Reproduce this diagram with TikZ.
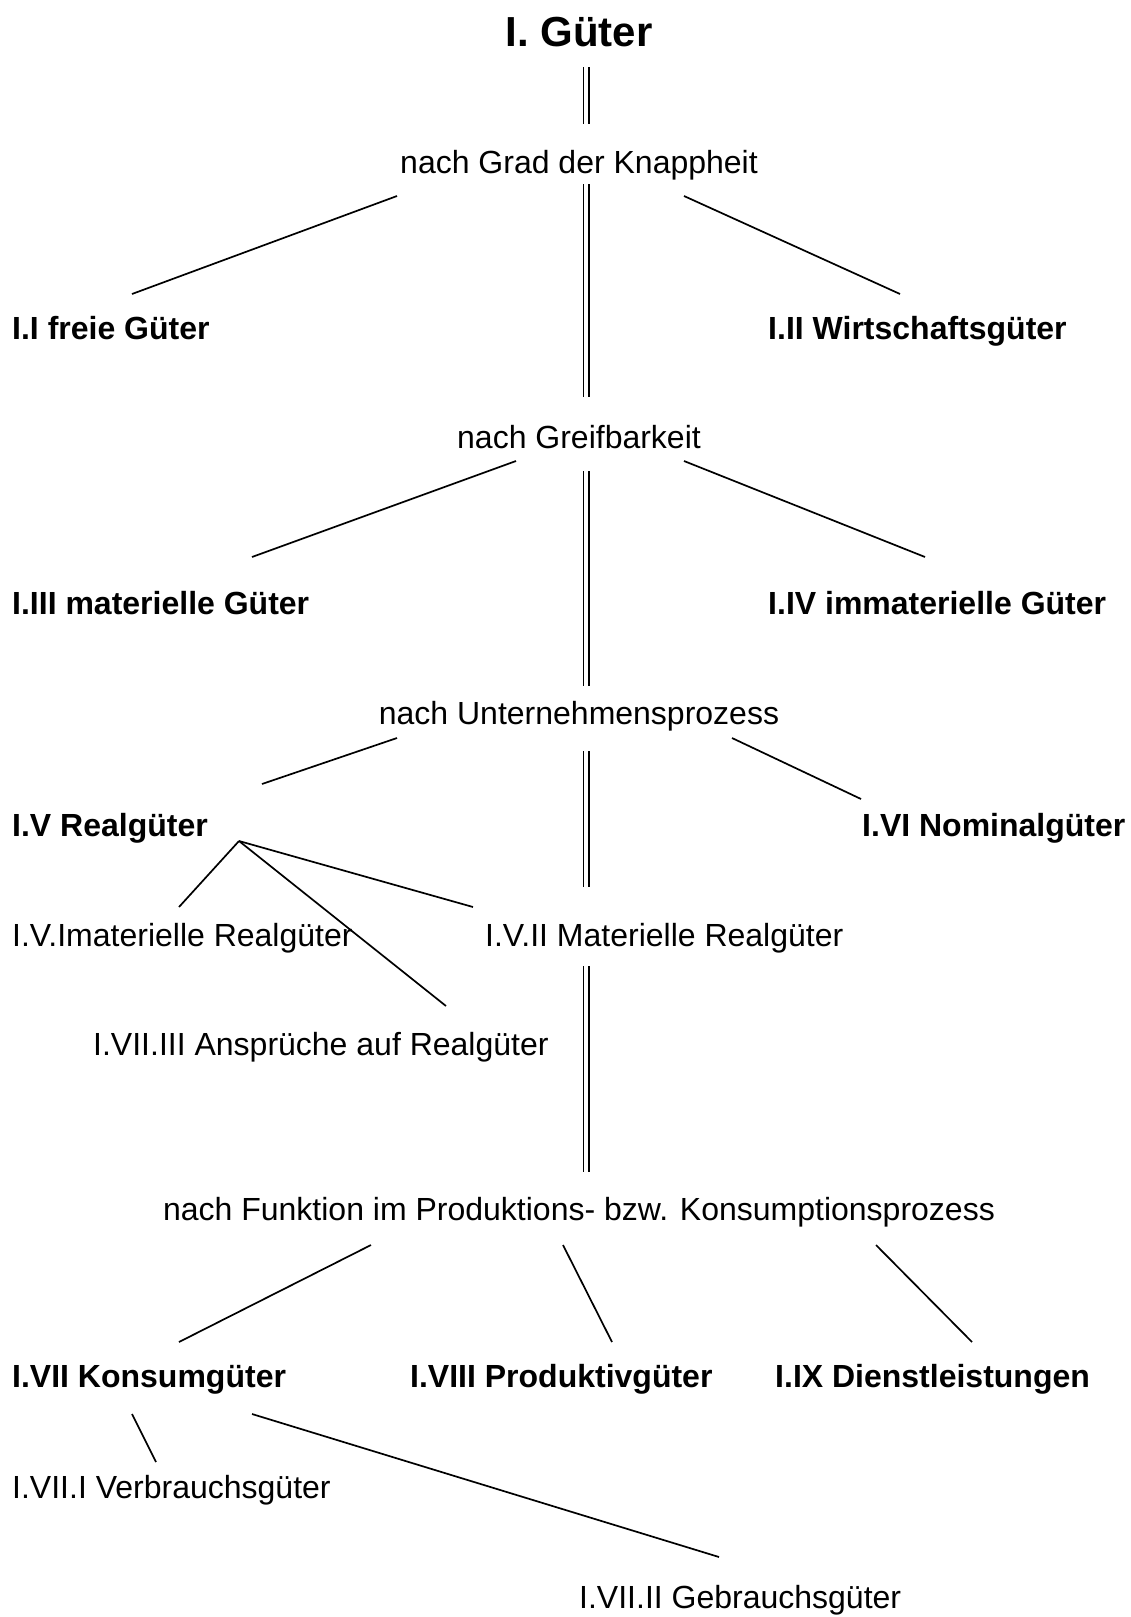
\documentclass[tikz,border=0pt]{standalone}
\usepackage{fontspec}
\setmainfont{Liberation Sans}
\usetikzlibrary{positioning}

\tikzset{
  crit/.style={font=\fontsize{32}{36}\selectfont, inner sep=0pt, anchor=base},
  cls/.style={font=\fontsize{32}{36}\selectfont\bfseries, inner sep=0pt, anchor=base west},
  sub/.style={font=\fontsize{32}{36}\selectfont, inner sep=0pt, anchor=base west},
  edge/.style={line width=1.7pt},
  dbl/.style={double, double distance=3.6pt, line width=1.7pt}
}

\begin{document}
\begin{tikzpicture}[x=1pt,y=-1pt]
  \useasboundingbox (0,0) rectangle (1131,1617);

  % title and criteria
  \node[font=\fontsize{42}{46}\selectfont\bfseries, inner sep=0pt, anchor=base] (gueter) at (579,46) {I. Güter};
  \node[crit] (knapp) at (579,173) {nach Grad der Knappheit};
  \node[crit] (greif) at (579,448) {nach Greifbarkeit};
  \node[crit] (prozess) at (579,724) {nach Unternehmensprozess};
  \node[crit] (funktion) at (579,1220) {nach Funktion im Produktions- bzw. Konsumptionsprozess};

  % classes
  \node[cls] (frei) at (12,339) {I.I freie Güter};
  \node[cls] (wirt) at (768,339) {I.II Wirtschaftsgüter};
  \node[cls] (mat) at (12,614) {I.III materielle Güter};
  \node[cls] (immat) at (768,614) {I.IV immaterielle Güter};
  \node[cls] (real) at (12,836) {I.V Realgüter};
  \node[cls] (nomi) at (862,836) {I.VI Nominalgüter};
  \node[cls] (konsum) at (12,1387) {I.VII Konsumgüter};
  \node[cls] (produkt) at (410,1387) {I.VIII Produktivgüter};
  \node[cls] (dienst) at (775,1387) {I.IX Dienstleistungen};

  % sub classes
  \node[sub] (imreal) at (12,946) {I.V.Imaterielle Realgüter};
  \node[sub] (mareal) at (485,946) {I.V.II Materielle Realgüter};
  \node[sub] (anspr) at (93,1055) {I.VII.III Ansprüche auf Realgüter};
  \node[sub] (verbr) at (12,1498) {I.VII.I Verbrauchsgüter};
  \node[sub] (gebr) at (579,1608) {I.VII.II Gebrauchsgüter};

  % free line ends
  \coordinate (k1) at (397,196);   \coordinate (k2) at (132,294);
  \coordinate (k3) at (684,196);   \coordinate (k4) at (900,294);
  \coordinate (g1) at (516,461);   \coordinate (g2) at (252,557);
  \coordinate (g3) at (684,461);   \coordinate (g4) at (925,557);
  \coordinate (p1) at (397,738);   \coordinate (p2) at (262,784);
  \coordinate (p3) at (732,738);   \coordinate (p4) at (861,799);
  \coordinate (r0) at (239,841);
  \coordinate (r1) at (179,907);   \coordinate (r2) at (473,907);
  \coordinate (r3) at (446,1006);
  \coordinate (f1) at (371,1245);  \coordinate (f2) at (179,1342);
  \coordinate (f3) at (563,1245);  \coordinate (f4) at (612,1342);
  \coordinate (f5) at (876,1245);  \coordinate (f6) at (972,1342);
  \coordinate (c1) at (132,1414);  \coordinate (c2) at (156,1462);
  \coordinate (c3) at (252,1414);  \coordinate (c4) at (719,1557);

  % double links
  \draw[dbl] (586,67) -- (586,124);
  \draw[dbl] (586,184) -- (586,397);
  \draw[dbl] (586,471) -- (586,686);
  \draw[dbl] (586,751) -- (586,887);
  \draw[dbl] (586,966) -- (586,1172);

  % branches
  \draw[edge] (k1) -- (k2);
  \draw[edge] (k3) -- (k4);
  \draw[edge] (g1) -- (g2);
  \draw[edge] (g3) -- (g4);
  \draw[edge] (p1) -- (p2);
  \draw[edge] (p3) -- (p4);
  \draw[edge] (r0) -- (r1);
  \draw[edge] (r0) -- (r2);
  \draw[edge] (r0) -- (r3);
  \draw[edge] (f1) -- (f2);
  \draw[edge] (f3) -- (f4);
  \draw[edge] (f5) -- (f6);
  \draw[edge] (c1) -- (c2);
  \draw[edge] (c3) -- (c4);
\end{tikzpicture}
\end{document}
